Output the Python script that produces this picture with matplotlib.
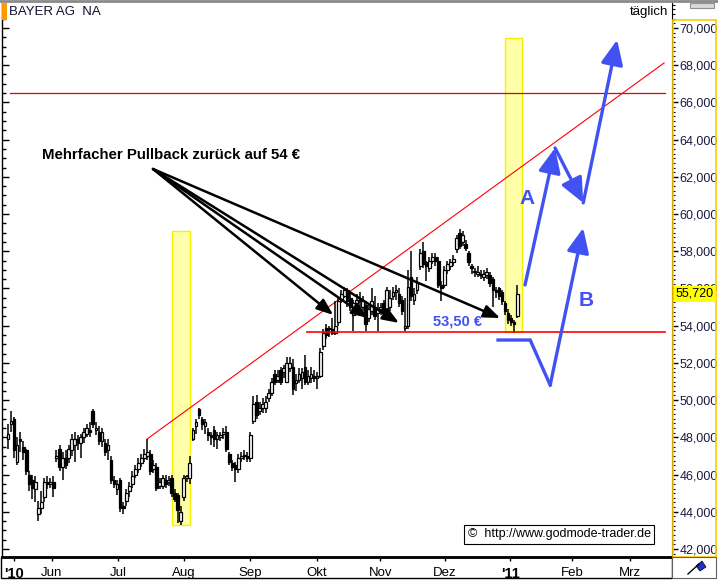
import matplotlib
matplotlib.use('Agg')
import matplotlib.pyplot as plt
from matplotlib.ticker import FuncFormatter, MultipleLocator
from matplotlib.patches import Rectangle, Polygon
from matplotlib.lines import Line2D

plt.rcParams['font.family'] = ['Liberation Sans', 'DejaVu Sans']

# ---------------- data (EUR, daily OHLC) ----------------
opens = [47.9, 48.7, 49.0, 46.7, 47.9, 47.5, 47.3, 46.0, 45.7, 45.2,
         43.9, 44.2, 44.8, 45.6, 45.5, 45.6, 46.9, 47.4, 46.4, 46.9,
         46.9, 47.3, 47.6, 47.9, 47.7, 48.0, 48.2, 48.4, 49.4, 48.4,
         48.3, 47.8, 47.7, 47.3, 46.8, 45.7, 45.2, 45.7, 44.3, 44.6,
         45.1, 45.5, 46.0, 46.3, 46.6, 46.9, 47.0, 47.1, 46.3, 46.4,
         45.4, 45.4, 45.7, 45.6, 45.8, 45.0, 44.9, 43.5, 44.8, 45.8,
         45.8, 47.9, 48.6, 49.5, 49.0, 48.6, 48.3, 48.1, 48.4, 47.9,
         48.0, 48.2, 48.3, 47.1, 46.6, 46.5, 46.3, 46.9, 47.0, 47.0,
         46.9, 48.9, 49.9, 49.4, 49.6, 49.6, 50.1, 50.4, 51.4, 51.1,
         51.6, 51.5, 51.0, 51.7, 51.8, 50.9, 51.1, 51.2, 51.8, 51.0,
         51.2, 51.3, 51.2, 51.3, 52.9, 53.9, 53.8, 53.8, 53.6, 54.2,
         55.4, 55.6, 55.9, 55.5, 54.6, 55.2, 55.4, 55.0, 55.1, 54.4,
         54.8, 55.0, 54.7, 54.9, 55.2, 54.9, 55.0, 55.6, 55.8, 55.7,
         55.4, 53.9, 54.0, 56.6, 55.4, 55.9, 57.2, 58.0, 57.4, 57.1,
         57.5, 57.7, 57.5, 56.2, 56.2, 57.0, 57.2, 57.4, 58.1, 59.0,
         58.5, 58.4, 57.9, 57.2, 56.9, 56.8, 56.7, 56.6, 56.7, 56.7,
         56.5, 55.9, 56.0, 55.8, 55.2, 54.7, 54.4, 54.2, 54.5]
highs = [48.7, 49.4, 49.1, 48.0, 48.3, 47.8, 47.4, 46.2, 46.0, 45.9,
         44.6, 45.1, 45.8, 45.9, 45.8, 45.9, 47.3, 47.6, 47.2, 47.3,
         47.6, 48.2, 48.3, 48.1, 48.2, 48.5, 48.7, 48.8, 49.5, 48.8,
         48.6, 48.5, 47.9, 47.9, 47.0, 45.9, 45.7, 45.8, 44.5, 45.2,
         45.6, 46.2, 46.5, 46.9, 47.1, 47.4, 47.9, 47.3, 46.8, 46.6,
         45.8, 46.0, 46.0, 45.9, 46.0, 45.2, 45.0, 44.3, 46.0, 46.0,
         47.0, 48.5, 49.0, 49.6, 49.1, 49.0, 48.5, 48.3, 48.6, 48.3,
         48.3, 48.5, 48.6, 47.2, 46.8, 46.7, 47.1, 47.2, 47.3, 47.2,
         48.3, 50.2, 50.3, 49.9, 50.1, 50.2, 50.6, 51.2, 51.6, 51.6,
         51.8, 51.9, 52.3, 52.3, 52.2, 51.4, 51.7, 51.7, 52.4, 51.6,
         51.8, 51.6, 51.5, 52.8, 53.8, 54.1, 54.0, 54.4, 55.3, 55.5,
         55.9, 56.1, 56.0, 55.7, 55.4, 55.7, 55.8, 55.6, 55.3, 55.1,
         56.0, 55.6, 55.2, 55.2, 55.4, 56.1, 55.9, 56.1, 56.2, 56.0,
         55.6, 55.5, 57.0, 58.0, 56.0, 56.6, 58.1, 58.5, 57.5, 57.7,
         57.9, 57.9, 57.7, 56.4, 57.2, 57.5, 57.6, 57.8, 58.9, 59.2,
         59.1, 58.6, 58.0, 57.3, 57.1, 57.2, 57.0, 57.0, 57.1, 56.9,
         56.6, 56.1, 56.1, 55.9, 55.3, 54.9, 54.6, 54.3, 56.2]
lows = [47.4, 48.3, 46.9, 46.5, 47.2, 46.8, 46.0, 45.1, 44.7, 44.5,
        43.5, 43.9, 44.5, 45.2, 45.3, 44.8, 46.7, 46.2, 45.7, 46.3,
        46.6, 47.0, 46.7, 47.3, 46.9, 47.7, 48.0, 48.0, 48.5, 48.1,
        47.6, 47.5, 47.0, 46.8, 45.5, 45.3, 44.9, 44.0, 43.9, 44.3,
        44.8, 45.3, 45.8, 46.1, 46.4, 46.7, 46.8, 46.0, 46.1, 45.1,
        45.2, 45.2, 45.3, 45.4, 44.8, 44.5, 43.4, 43.3, 44.6, 45.6,
        45.5, 47.8, 48.2, 49.0, 48.4, 48.2, 47.8, 47.6, 47.5, 47.4,
        47.8, 47.9, 47.2, 46.5, 46.2, 45.6, 46.1, 46.7, 46.8, 46.7,
        46.7, 48.7, 49.0, 49.2, 49.3, 49.3, 49.9, 50.2, 50.8, 50.9,
        50.8, 51.2, 50.9, 51.5, 50.3, 50.5, 50.9, 50.6, 50.8, 50.8,
        50.9, 51.0, 50.6, 51.2, 52.7, 53.3, 53.4, 53.5, 53.5, 54.0,
        55.2, 55.5, 55.0, 54.8, 53.7, 55.0, 55.0, 54.8, 53.7, 54.2,
        54.6, 54.3, 53.7, 54.6, 54.6, 54.7, 54.8, 55.4, 55.4, 55.0,
        54.6, 53.7, 53.8, 55.3, 55.1, 55.7, 57.0, 57.1, 56.4, 56.9,
        57.3, 57.2, 56.0, 55.3, 56.0, 56.8, 57.0, 57.2, 57.9, 58.1,
        58.3, 58.0, 57.2, 56.8, 56.6, 56.6, 56.5, 56.4, 56.5, 56.1,
        55.0, 55.5, 55.4, 55.1, 54.6, 54.1, 54.0, 53.6, 54.4]
closes = [48.2, 48.9, 47.3, 47.6, 47.8, 47.2, 46.2, 45.5, 45.3, 45.6,
          44.2, 44.5, 45.6, 45.5, 45.6, 45.3, 47.0, 46.4, 46.9, 46.5,
          47.4, 47.9, 47.9, 47.7, 48.0, 48.3, 48.5, 48.3, 48.7, 48.5,
          47.8, 48.3, 47.2, 47.6, 45.7, 45.5, 45.5, 44.2, 44.2, 45.0,
          45.4, 45.9, 46.3, 46.6, 46.9, 47.1, 47.2, 46.2, 46.5, 45.3,
          45.6, 45.8, 45.5, 45.7, 45.0, 44.7, 44.1, 44.0, 45.8, 45.9,
          46.6, 48.4, 48.8, 49.2, 48.7, 48.8, 48.1, 48.0, 47.9, 48.1,
          48.1, 48.3, 47.4, 46.7, 46.4, 46.3, 46.9, 47.0, 47.0, 46.9,
          48.1, 49.8, 49.2, 49.6, 49.8, 49.9, 50.4, 51.0, 51.0, 51.3,
          51.0, 51.7, 52.0, 52.0, 50.6, 51.1, 51.4, 51.5, 51.0, 51.3,
          51.4, 51.2, 51.3, 52.6, 53.6, 53.5, 53.9, 53.6, 54.0, 55.3,
          55.7, 55.9, 55.3, 55.0, 55.2, 55.4, 55.3, 55.3, 54.1, 54.9,
          55.3, 54.5, 54.9, 55.0, 54.8, 55.9, 55.5, 55.8, 55.9, 55.2,
          54.8, 54.0, 56.1, 55.6, 55.7, 56.3, 57.9, 57.3, 57.2, 57.5,
          57.7, 57.5, 56.2, 56.0, 57.0, 57.3, 57.4, 57.6, 58.7, 58.3,
          58.9, 58.2, 57.4, 57.1, 56.9, 56.9, 56.8, 56.8, 56.9, 56.3,
          55.9, 55.8, 55.6, 55.3, 54.8, 54.3, 54.2, 54.1, 55.72]

# x-axis: trading-day index positions of the month labels
month_labels = ["'10", "Jun", "Jul", "Aug", "Sep", "Okt", "Nov", "Dez", "'11", "Feb", "Mrz"]
month_pos = [2.0, 14.5, 36.3, 58.1, 79.9, 102.0, 122.8, 144.2, 165.7, 186.1, 205.3]
y_ticks = [42, 44, 46, 48, 50, 52, 54, 56, 58, 60, 62, 64, 66, 68, 70]

# analysis drawings (index, price)
resistance_level = 66.5
resistance_span = (0.7, 216.8)
support_level = 53.65
support_span = (98.7, 216.8)
trend_start = (45.9, 47.91)
trend_end = (216.5, 68.12)
box1 = (54.1, 60.1, 43.29, 59.09)
box2 = (164.0, 169.6, 53.66, 69.46)
pullback_origin = (47.85, 62.42)
pullback_tips = [(107.3, 54.58), (118.8, 54.41), (129.0, 54.15), (162.4, 54.41)]
path_a = [(170.6, 56.19), (180.5, 63.55), (189.8, 60.60), (201.0, 69.36)]
path_b = [(161.7, 53.23), (172.3, 53.23), (178.9, 50.81), (189.8, 59.25)]

# ---------------- figure ----------------
W, H = 718, 580
fig = plt.figure(figsize=(W / 100, H / 100), dpi=100)
fig.patch.set_facecolor('white')


def fx(px):
    return px / W


def fy(py):
    return 1 - py / H


ax = fig.add_axes([fx(2), fy(557), fx(672) - fx(2), fy(3) - fy(557)])
ax.set_facecolor('white')
ax.set_xlim(-1.98, 219.1)
ax.set_ylim(41.57, 71.34)

n = len(closes)
idx = list(range(n))
blue = '#4252F2'

# yellow highlight boxes
for (x0, x1, y0, y1) in (box1, box2):
    ax.add_patch(Rectangle((x0, y0), x1 - x0, y1 - y0, facecolor='#FFFFAA',
                           edgecolor='#F5F000', lw=1.0, zorder=1))

# candles
ax.vlines(idx, lows, highs, color='black', lw=1.1, zorder=3)
bottoms = [min(o, c) for o, c in zip(opens, closes)]
heights = [max(abs(c - o), 0.06) for o, c in zip(opens, closes)]
fcols = ['white' if c >= o else 'black' for o, c in zip(opens, closes)]
ax.bar(idx, heights, bottom=bottoms, width=0.9, color=fcols,
       edgecolor='black', linewidth=0.9, zorder=4)

# red lines
ax.plot(resistance_span, [resistance_level] * 2, color='#E00000', lw=0.9, zorder=2)
ax.plot(support_span, [support_level] * 2, color='#FF0000', lw=1.2, zorder=5)
ax.plot([trend_start[0], trend_end[0]], [trend_start[1], trend_end[1]],
        color='#FF0000', lw=0.8, zorder=2)

# black pullback arrows
for tip in pullback_tips:
    ax.annotate('', xy=tip, xytext=pullback_origin,
                arrowprops=dict(arrowstyle='-|>,head_length=0.9,head_width=0.35',
                                color='black', lw=1.8, mutation_scale=11,
                                shrinkA=0, shrinkB=0), zorder=6)
ax.text(11.2, 63.17, 'Mehrfacher Pullback zurück auf 54 €', fontsize=10.8,
        fontweight='bold', ha='left', va='center', color='black', zorder=7)

ax.text(148.2, 54.20, '53,50 €', fontsize=10.5, fontweight='bold',
        color=blue, ha='center', va='center', zorder=7)

# blue scenario paths
astyle = '-|>,head_length=1.0,head_width=0.45'
for i in range(len(path_a) - 1):
    ax.annotate('', xy=path_a[i + 1], xytext=path_a[i],
                arrowprops=dict(arrowstyle=astyle, color=blue, lw=2.4,
                                mutation_scale=15, shrinkA=0, shrinkB=0), zorder=6)
ax.plot([p[0] for p in path_b[:3]], [p[1] for p in path_b[:3]], color=blue,
        lw=2.4, solid_joinstyle='miter', zorder=6)
ax.annotate('', xy=path_b[3], xytext=path_b[2],
            arrowprops=dict(arrowstyle=astyle, color=blue, lw=2.4,
                            mutation_scale=15, shrinkA=0, shrinkB=0), zorder=6)
ax.text(171.3, 60.86, 'A', fontsize=15, fontweight='bold', color=blue,
        ha='center', va='center', zorder=7)
ax.text(190.8, 55.33, 'B', fontsize=15, fontweight='bold', color=blue,
        ha='center', va='center', zorder=7)

# axes styling
for s in ('top', 'right'):
    ax.spines[s].set_visible(False)
ax.spines['left'].set_color('black')
ax.spines['left'].set_linewidth(1.0)
ax.spines['bottom'].set_color('black')
ax.spines['bottom'].set_linewidth(2.0)

ax.yaxis.set_major_locator(MultipleLocator(2))
ax.yaxis.set_minor_locator(MultipleLocator(0.5))
ax.tick_params(axis='y', which='major', direction='in', left=True, right=False,
               labelleft=False, length=5, width=1, color='black')
ax.tick_params(axis='y', which='minor', direction='in', left=True, right=False,
               length=3, width=1, color='black')

ax.set_xticks(month_pos)
ax.set_xticklabels(month_labels)
ax.tick_params(axis='x', direction='out', length=3, width=1, pad=4, labelsize=9.5,
               color='black')
for lab in ax.get_xticklabels():
    if lab.get_text().startswith("'"):
        lab.set_fontweight('bold')
        lab.set_fontsize(10.5)

sec = ax.secondary_yaxis('right')
sec.set_yticks(y_ticks)
sec.yaxis.set_major_formatter(FuncFormatter(lambda v, p: f"{v:.3f}".replace('.', ',')))
sec.yaxis.set_minor_locator(MultipleLocator(0.25))
sec.tick_params(axis='y', which='major', direction='out', length=4, width=1,
                labelsize=9, pad=1.5, color='black', labelcolor='#1a1a40')
sec.tick_params(axis='y', which='minor', direction='out', length=2, width=0.8,
                color='black')
sec.spines['right'].set_color('black')
sec.spines['right'].set_linewidth(0.8)

# ---------------- frame decorations ----------------
fig.add_artist(Line2D([0, 1], [fy(0.8), fy(0.8)], color='#8a8a8a', lw=2.0))
fig.add_artist(Rectangle((fx(0.5), fy(578)), fx(672) - fx(0.5), fy(557) - fy(578),
                         transform=fig.transFigure, facecolor='none',
                         edgecolor='black', lw=1.0))
fig.add_artist(Rectangle((fx(673), fy(557)), fx(716) - fx(673), fy(20) - fy(557),
                         transform=fig.transFigure, facecolor='none',
                         edgecolor='#FFCC00', lw=1.2))
fig.add_artist(Rectangle((fx(690), fy(8)), fx(714) - fx(690), fy(3) - fy(8),
                         transform=fig.transFigure, facecolor='#D8D8D8',
                         edgecolor='#909090', lw=0.8))
fig.add_artist(Rectangle((fx(672), fy(578)), fx(716) - fx(672), fy(557) - fy(578),
                         transform=fig.transFigure, facecolor='white',
                         edgecolor='#606060', lw=0.8))
fig.add_artist(Line2D([fx(688), fx(699)], [fy(574), fy(564)], color='black', lw=1.0))
fig.add_artist(Polygon([(fx(696), fy(566)), (fx(702), fy(561)), (fx(706), fy(567)),
                        (fx(700), fy(571))], closed=True, transform=fig.transFigure,
                       facecolor='#2030D0', edgecolor='black', lw=0.5))
fig.add_artist(Rectangle((fx(2), fy(20)), fx(7) - fx(2), fy(3) - fy(20),
                         transform=fig.transFigure, facecolor='#FF9900',
                         edgecolor='none'))

# last price tag (drawn above the axis labels)
last_py = 28 + (70 - closes[-1]) * 18.607
fig.text(fx(676), fy(last_py), f"{closes[-1]:.3f}".replace('.', ','), fontsize=9,
         ha='left', va='center', color='black', zorder=10,
         bbox=dict(boxstyle='square,pad=0.15', facecolor='#FFFF00', edgecolor='none'))

fig.text(fx(9), fy(12), 'BAYER AG  NA', fontsize=9.5, ha='left', va='center',
         color='#101030')
fig.text(fx(668), fy(12), 'täglich', fontsize=9.5, ha='right', va='center',
         color='black')
fig.text(fx(559), fy(534.5), '©  http://www.godmode-trader.de', fontsize=9,
         ha='center', va='center', color='black',
         bbox=dict(boxstyle='square,pad=0.3', facecolor='white', edgecolor='black',
                   lw=0.8))

fig.savefig('out.png', dpi=100, facecolor='white')
